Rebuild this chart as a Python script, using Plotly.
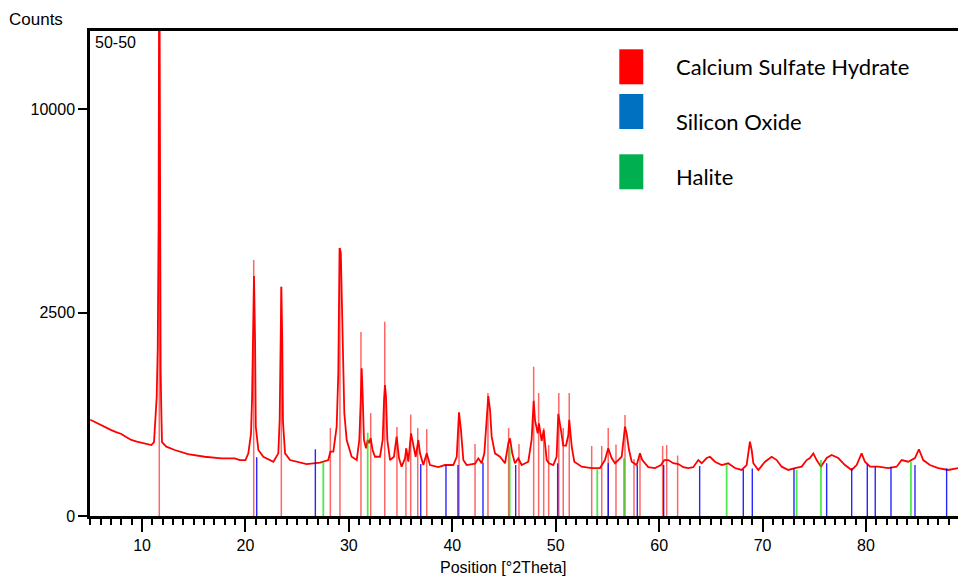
import numpy as np
import plotly.graph_objects as go

two_theta = [5.00, 5.5, 6.06, 6.5, 7.03, 7.5, 8.0, 8.5, 8.97, 9.5, 9.93, 10.5, 10.9,
             11.16, 11.30, 11.42, 11.52, 11.60, 11.67, 11.74, 11.80, 11.86, 11.93,
             12.35, 13.16, 14.45, 16.06, 17.67, 18.96, 19.47, 20.0,
             20.28, 20.54, 20.64, 20.76, 20.83, 20.93, 21.00, 21.25, 21.73, 22.70,
             23.18, 23.31, 23.41, 23.47, 23.56, 23.63, 23.83, 24.31, 25.92, 27.21,
             28.01, 28.21, 28.5, 28.82, 28.98, 29.10, 29.22, 29.40, 29.56, 29.79,
             30.27, 30.76, 31.01, 31.15, 31.24, 31.34, 31.46, 31.66, 31.82, 31.95,
             32.11, 32.30, 32.53, 33.01, 33.27, 33.40, 33.49, 33.59, 33.72, 33.98,
             34.36, 34.62, 34.85, 35.1, 35.43, 35.55, 35.75, 36.01, 36.23, 36.46,
             36.72, 36.88, 37.2, 37.53, 37.85, 38.65, 39.3, 40.1, 40.43, 40.65,
             40.84, 41.07, 41.39, 42.2, 42.52, 42.84, 43.1, 43.33, 43.48, 43.65,
             43.81, 44.13, 44.61, 45.1, 45.42, 45.58, 45.8, 46.06, 46.38, 46.71,
             47.35, 47.67, 47.87, 48.0, 48.26, 48.38, 48.64, 48.84, 49.13, 49.35,
             49.77, 50.09, 50.25, 50.51, 50.73, 51.0, 51.22, 51.31, 51.55, 51.8,
             52.51, 53.48, 54.28, 54.76, 55.08, 55.41, 55.73, 56.05, 56.38, 56.70,
             56.86, 57.09, 57.35, 57.83, 58.15, 58.37, 58.95, 59.6, 60.18, 60.5,
             60.89, 61.37, 61.86, 62.34, 62.82, 63.3, 63.79, 64.12, 64.6, 64.92,
             65.4, 66.05, 66.68, 67.33, 67.98, 68.46, 68.62, 68.78, 68.95, 69.11,
             69.59, 70.24, 70.88, 71.37, 71.85, 72.49, 73.14, 73.78, 74.27, 74.58,
             74.91, 75.23, 75.65, 76.2, 76.68, 77.32, 77.97, 78.62, 79.1, 79.58,
             79.9, 80.39, 81.19, 82.15, 82.97, 83.45, 84.09, 84.74, 85.12, 85.54,
             86.18, 86.99, 87.96, 88.9]
counts = [560, 530, 500, 470, 446, 425, 406, 375, 349, 335, 324, 312, 304,
          330, 556, 860, 1700, 5000, 22000, 5000, 1300, 700, 330,
          290, 263, 232, 212, 201, 201, 189, 189,
          237, 413, 836, 1870, 3477, 1870, 482, 263, 212, 178,
          237, 556, 1870, 3172, 1870, 537, 237, 189, 163, 172,
          189, 250, 250, 482, 1230, 4336, 4200, 1870, 640, 349,
          212, 189, 349, 812, 1317, 859, 349, 277, 349, 320,
          367, 260, 212, 212, 349, 812, 1036, 859, 349, 189,
          212, 380, 201, 147, 201, 277, 178, 413, 319, 212,
          349, 237, 157, 237, 157, 145, 157, 157, 212, 650,
          446, 189, 157, 165, 201, 168, 237, 595, 870, 678,
          380, 237, 212, 168, 319, 364, 237, 168, 201, 157,
          178, 349, 800, 556, 413, 519, 340, 446, 189, 168,
          157, 212, 630, 446, 300, 300, 396, 560, 290, 178,
          147, 139, 139, 189, 277, 203, 168, 189, 212, 482,
          413, 263, 178, 157, 237, 189, 144, 139, 157, 189,
          189, 168, 163, 144, 139, 144, 189, 168, 203, 212,
          178, 157, 168, 139, 128, 157, 237, 333, 263, 168,
          128, 178, 212, 189, 147, 128, 139, 147, 189, 203,
          237, 189, 147, 203, 225, 203, 157, 128, 157, 237,
          178, 147, 147, 139, 147, 189, 178, 203, 269, 189,
          157, 139, 128, 139]

# ---- reference patterns (position, height in counts) ----
gypsum_pos = [11.67, 20.80, 23.47, 28.21, 29.14, 31.17, 32.11, 33.47, 34.65, 35.52,
              35.98, 36.66, 37.53, 40.65, 42.20, 43.45, 45.45, 46.45, 47.87, 48.35,
              48.84, 49.32, 50.30, 50.73, 51.31, 53.48, 54.45, 55.08, 55.83, 56.70,
              57.57, 58.15, 60.34, 60.73, 61.79]
gypsum_h = [22000, 3956, 3172, 467, 4336, 2044, 640, 2279, 478, 277,
            622, 467, 456, 645, 313, 913, 467, 313, 1346, 913,
            467, 304, 913, 467, 913, 296, 296, 467, 309, 616,
            196, 217, 296, 304, 221]

quartz_pos = [21.09, 26.76, 36.95, 39.39, 40.55, 42.97, 46.13, 50.19, 55.08, 57.89,
              60.44, 63.92, 68.14, 69.01, 73.04, 76.20, 78.62, 80.13, 80.90, 82.42,
              84.74, 87.80]
quartz_h = [208, 269, 163, 157, 157, 172, 157, 168, 168, 154,
            157, 151, 132, 137, 137, 168, 137, 161, 147, 147,
            157, 137]

halite_pos = [27.53, 31.82, 45.55, 54.02, 56.60, 66.53, 73.30, 75.65, 84.35]
halite_h = [178, 419, 290, 137, 201, 161, 128, 189, 178]

legend_names = ["Calcium Sulfate Hydrate", "Silicon Oxide", "Halite"]
legend_colors = ["#FF0000", "#0070C0", "#00B050"]

y_ticks = [0, 2500, 10000]
x_ticks = [10, 20, 30, 40, 50, 60, 70, 80]


def sticks(pos, h):
    xs, ys = [], []
    for p, v in zip(pos, h):
        xs += [p, p, None]
        ys += [0, np.sqrt(v), None]
    return xs, ys


fig = go.Figure()

fig.add_trace(go.Scatter(x=two_theta, y=np.sqrt(np.array(counts, dtype=float)),
                         mode="lines", line=dict(color="#FF0000", width=1.8),
                         hoverinfo="skip", showlegend=False))

for pos, h, col, w in [(gypsum_pos, gypsum_h, "rgba(255,0,0,0.6)", 1.5),
                       (quartz_pos, quartz_h, "rgba(0,0,255,0.85)", 1.4),
                       (halite_pos, halite_h, "rgba(0,225,0,0.7)", 1.8)]:
    xs, ys = sticks(pos, h)
    fig.add_trace(go.Scatter(x=xs, y=ys, mode="lines", line=dict(color=col, width=w),
                             hoverinfo="skip", showlegend=False))

W, H = 958, 577
L, R, T, B = 90, 0, 31, 61
pw, ph = W - L - R, H - T - B


def px(x):
    return (x - L) / pw


def py(y):
    return (H - B - y) / ph


shapes = []
annotations = []
sw_top = [49.3, 94.0, 154.3]
txt_y = [66.7, 121.7, 176.7]
for name, col, t0, ty in zip(legend_names, legend_colors, sw_top, txt_y):
    shapes.append(dict(type="rect", xref="paper", yref="paper",
                       x0=px(619.3), x1=px(643.3), y0=py(t0 + 35), y1=py(t0),
                       fillcolor=col, line=dict(width=0)))
    annotations.append(dict(text=name, xref="paper", yref="paper", x=px(674), y=py(ty),
                            xanchor="left", yanchor="middle", showarrow=False,
                            font=dict(family="Lato", size=22, color="black")))

annotations.append(dict(text="Counts", xref="paper", yref="paper", x=px(7), y=py(19),
                        xanchor="left", yanchor="middle", showarrow=False,
                        font=dict(family="Liberation Sans", size=17, color="black")))
annotations.append(dict(text="50-50", xref="paper", yref="paper", x=px(93), y=py(42),
                        xanchor="left", yanchor="middle", showarrow=False,
                        font=dict(family="Liberation Sans", size=16, color="black")))
annotations.append(dict(text="Position [°2Theta]", xref="paper", yref="paper",
                        x=px(503), y=py(567), xanchor="center", yanchor="middle",
                        showarrow=False,
                        font=dict(family="Liberation Sans", size=16, color="black")))

fig.update_layout(
    width=W, height=H,
    margin=dict(l=L, r=R, t=T, b=B, pad=0),
    paper_bgcolor="white", plot_bgcolor="white",
    showlegend=False,
    shapes=shapes, annotations=annotations,
    font=dict(family="Liberation Sans", size=16, color="black"),
    xaxis=dict(range=[4.97, 88.9], tickvals=x_ticks, ticktext=[str(v) for v in x_ticks],
               ticks="outside", ticklen=13, tickwidth=1.5, tickcolor="black",
               showline=True, linecolor="black", linewidth=2.5, mirror=True,
               showgrid=False, zeroline=False,
               minor=dict(dtick=1, tick0=0, ticks="outside", ticklen=6, tickwidth=1.5,
                          tickcolor="black", showgrid=False),
               tickfont=dict(family="Liberation Sans", size=16, color="black")),
    yaxis=dict(range=[0, 119.2], tickvals=[np.sqrt(v) for v in y_ticks],
               ticktext=[str(v) for v in y_ticks],
               ticks="outside", ticklen=9, tickwidth=1.5, tickcolor="black",
               showline=True, linecolor="black", linewidth=2.5, mirror=False,
               showgrid=False, zeroline=False,
               tickfont=dict(family="Liberation Sans", size=16, color="black")),
)

fig.write_html("out.html", config={"displayModeBar": False},
               post_script="document.body.style.margin='0px';document.body.style.overflow='hidden';")
